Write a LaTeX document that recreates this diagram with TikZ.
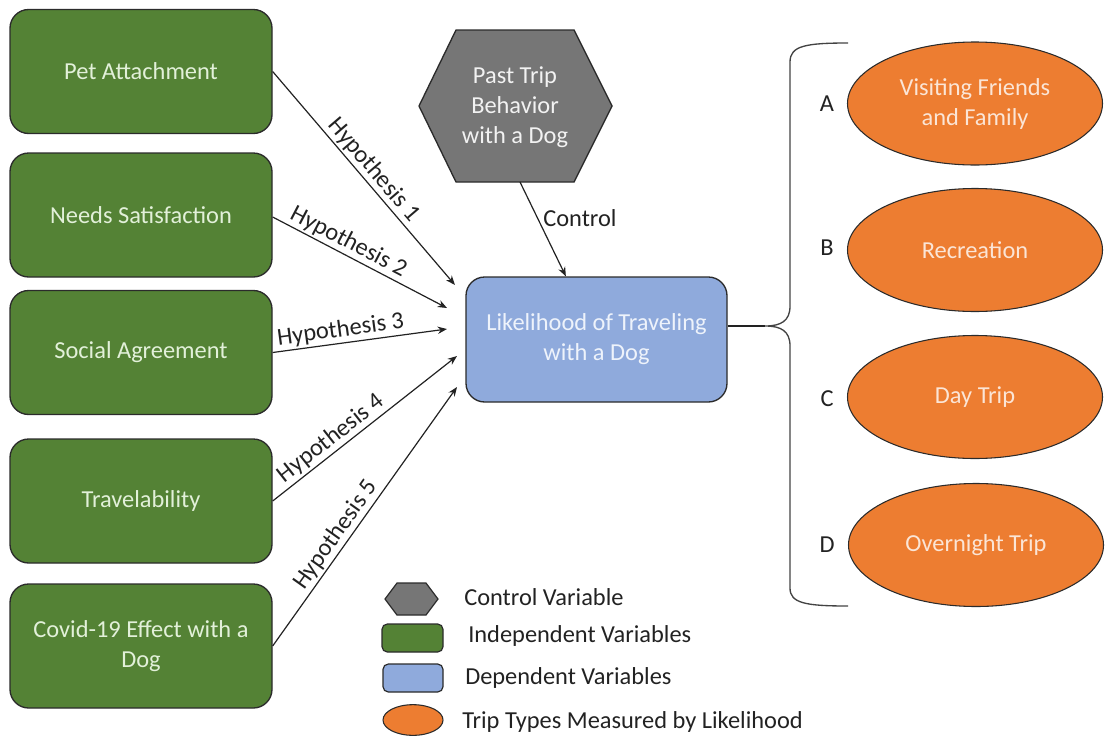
\documentclass[tikz,border=0pt]{standalone}
\usepackage{fontspec}
\setmainfont{Carlito}
\usetikzlibrary{arrows.meta,shapes.geometric}
\definecolor{gfill}{HTML}{548235}
\definecolor{gtext}{HTML}{E2F0D9}
\definecolor{bfill}{HTML}{8FAADC}
\definecolor{btext}{HTML}{EEF3FB}
\definecolor{hfill}{HTML}{767676}
\definecolor{htext}{HTML}{F2F2F2}
\definecolor{ofill}{HTML}{ED7D31}
\definecolor{otext}{HTML}{FBE5D6}
\definecolor{ink}{HTML}{222222}
\definecolor{edge}{HTML}{2B2B2B}
\begin{document}
\begin{tikzpicture}[x=0.75pt,y=-0.75pt,
  every node/.style={font=\fontsize{18.3}{22.5}\selectfont},
  gbox/.style={draw=edge, line width=1pt, fill=gfill, text=gtext, rounded corners=14pt,
    minimum width=196.5pt, minimum height=93pt, align=center, inner sep=0pt},
  bbox/.style={draw=edge, line width=1pt, fill=bfill, text=btext, rounded corners=14pt,
    minimum width=195.75pt, minimum height=93.75pt, align=center, inner sep=0pt},
  obox/.style={ellipse, draw=edge, line width=0.8pt, fill=ofill, text=otext,
    minimum width=191.25pt, minimum height=92.25pt, align=center, inner sep=0pt},
  hexst/.style={draw=edge, line width=1pt, fill=hfill},
  htxt/.style={text=htext, align=center, inner sep=0pt},
  arr/.style={draw=ink, line width=0.9pt, -{Stealth[length=7pt,width=5.5pt]}},
  lab/.style={text=ink, sloped, above, inner sep=1.5pt},
  plain/.style={text=ink, inner sep=0pt},
  brace/.style={draw=ink!85, line width=1pt},
  lgreen/.style={draw=edge, line width=0.9pt, fill=gfill, rounded corners=4pt,
    minimum width=45.75pt, minimum height=21pt, inner sep=0pt},
  lblue/.style={draw=edge, line width=0.9pt, fill=bfill, rounded corners=4pt,
    minimum width=45pt, minimum height=21pt, inner sep=0pt},
  loval/.style={ellipse, draw=edge, line width=0.8pt, fill=ofill,
    minimum width=45pt, minimum height=23pt, inner sep=0pt}
]
\useasboundingbox (0,0) rectangle (1106,736);

% independent variables
\node[gbox] (g1) at (141,71.5) {Pet Attachment};
\node[gbox] (g2) at (141,215) {Needs Satisfaction};
\node[gbox] (g3) at (141,352.5) {Social Agreement};
\node[gbox] (g4) at (141,501) {Travelability};
\node[gbox] (g5) at (141,646) {Covid-19 Effect with a\\Dog};

% control variable
\draw[hexst] (419,106) -- (456,30) -- (574,30) -- (612,106) -- (574,182) -- (456,182) -- cycle;
\node[htxt] (hex) at (515,107) {Past Trip\\Behavior\\with a Dog};
\coordinate (hexb) at (520,182);

% dependent variable
\node[bbox] (blue) at (596.5,339.5) {Likelihood of Traveling\\with a Dog};

% arrow tips
\coordinate (t1) at (455,285);
\coordinate (t2) at (447,308);
\coordinate (t3) at (447,329);
\coordinate (t4) at (457,356);
\coordinate (t5) at (457,387);

\draw[arr] (g1.east) -- node[lab, pos=0.5] {Hypothesis 1} (t1);
\draw[arr] (g2.east |- 0,217) -- node[lab, pos=0.4] {Hypothesis 2} (t2);
\draw[arr] (g3.east) -- node[lab, pos=0.4] {Hypothesis 3} (t3);
\draw[arr] (g4.east) -- node[lab, pos=0.36] {Hypothesis 4} (t4);
\draw[arr] (g5.east) -- node[lab, pos=0.4] {Hypothesis 5} (t5);
\draw[arr] (hexb) -- node[plain, right, pos=0.38, xshift=4pt] {Control} (blue);

% trip types
\node[obox] (oa) at (975,103.5) {Visiting Friends\\and Family};
\node[obox] (ob) at (975,250) {Recreation};
\node[obox] (oc) at (975,397) {Day Trip};
\node[obox] (od) at (976,545) {Overnight Trip};
\node[plain] (la) at (827,104) {A};
\node[plain] (lb) at (827,248) {B};
\node[plain] (lc) at (827,399) {C};
\node[plain] (ld) at (827,545) {D};

% brace
\coordinate (tip) at (765,326);
\draw[draw=ink, line width=1.2pt] (tip -| blue.east) -- (tip);
\draw[brace] (848,43) .. controls (805,43) and (790,46) .. (790,62) -- (790,306)
  .. controls (790,321) and (781,326) .. (tip)
  .. controls (781,326) and (790,331) .. (790,346) -- (790,588)
  .. controls (790,603) and (805,606) .. (848,606);

% legend
\draw[hexst, line width=0.9pt] (385,599) -- (397,583) -- (426,583) -- (438,599) -- (426,615) -- (397,615) -- cycle;
\node[lgreen] (lg) at (412.5,638) {};
\node[lblue] (lb2) at (413,678) {};
\node[loval] (lo) at (413,720) {};
\node[plain, anchor=west] (k1) at (464,597) {Control Variable};
\node[plain, anchor=west] (k2) at (468,636) {Independent Variables};
\node[plain, anchor=west] (k3) at (465,678) {Dependent Variables};
\node[plain, anchor=west] (k4) at (462,722) {Trip Types Measured by Likelihood};
\end{tikzpicture}
\end{document}
